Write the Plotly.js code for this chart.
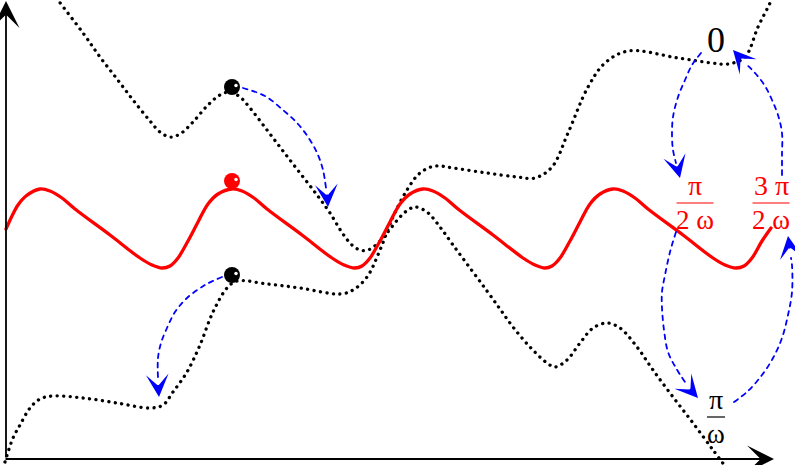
<!DOCTYPE html>
<html>
<head>
<meta charset="utf-8">
<script src="https://cdn.plot.ly/plotly-3.0.1.min.js"></script>
<style>
html,body{margin:0;padding:0;background:#fff;}
#chart{width:795px;height:465px;}
.js-line{stroke-linecap:round !important;}
</style>
</head>
<body>
<div id="chart"></div>
<script>
// ---- data (chart coordinates: x to the right, y downward) ----
// red periodic potential
const redX = [6,12,18,26,40,50,62,75,110,140,152,162,170,178,188,198,208,218,232,
  242,254,267,302,332,344,355,362,370,380,390,400,410,423,
  433,445,458,493,523,535,545,552,560,570,580,590,600,613,
  623,635,648,683,713,725,736,744,752,762,771];
const redY = [229,216,205,196,189,191,198,209,235,258,265,268,266,258,241,222,204,194,189,
  191,198,209,235,258,265,268,266,258,241,222,204,194,189,
  191,198,209,235,258,265,268,266,258,241,222,204,194,189,
  191,198,209,235,258,265,268,266,258,241,228];

// tilted potential falling to the right (dotted)
const fallX = [45,58,83,100,117,133,150,160,170,180,193,207,220,230,240,250,267,283,300,317,330,343,352,360,368,377,387,400,408,415,427,440,453,470,487,500,513,530,547,555,567,580,593,607,620,637,653,673,693,713,725];
const fallY = [-18,0,33,57,79,100,121,132,137,134,122,106,95,92,97,108,130,151,173,195,213,234,245,250,250,244,233,217,210,207,212,227,245,268,291,309,327,347,363,367,360,343,328,323,328,347,370,397,423,450,466];

// tilted potential rising to the right (dotted)
const riseX = [5,13,20,30,40,53,83,117,150,163,173,187,200,213,227,237,267,300,340,353,367,380,393,407,420,435,453,487,517,535,552,568,588,605,628,678,712,728,745,758,770,778];
const riseY = [462,438,425,408,399,396,398,403,408,405,392,372,345,312,288,281,284,288,294,290,277,250,217,190,173,166,168,173,177,178,167,133,87,63,51,58,63,64,57,27,3,-15];

// blue dashed transition arrows
const arrowsX = [
  [243,265,283,298,310,318,323,326],
  [222,205,187,175,167,161,158,158],
  [701,692,685,678,673,672,673,676],
  [676,670,665,662,662,664,668,676,685],
  [734,748,762,773,782,788,792,792,791],
  [782,782,782,778,772,765,755,745]
];
const arrowsY = [
  [88,96,110,124,140,155,170,188],
  [277,285,298,312,328,343,358,378],
  [53,65,80,97,117,135,150,163],
  [232,252,275,292,308,330,352,368,382],
  [402,391,375,358,338,315,292,265,258],
  [175,155,133,115,100,86,73,63]
];
const headTailX = [327,158,677,689,790,742];
const headTailY = [193,384,166,388,250,60];
const headTipX  = [328,159,680,698,788,733];
const headTipY  = [207,397,178,398,236,50];

// particles
const ballX = [232,232,232];
const ballY = [87,275,181];
const ballColor = ['#000000','#000000','#ff0000'];

// labels
const labelText = ['0'];
const labelX = [716];
const labelY = [40];
const fracNum = ['π','3 π','π'];
const fracDen = ['2 ω','2 ω','ω'];
const fracX = [695,771,716];
const fracBarY = [203,203,417];
const fracHalfW = [18.5,18.5,9];
const fracColor = ['#ff0000','#ff0000','#000000'];

// axes (origin and arrow tips)
const axisOrigin = [6,459];
const axisTipX = [774,459];
const axisTipY = [6,1];

// ---- build figure ----
const traces = [];
traces.push({x: riseX, y: riseY, mode:'lines', line:{color:'#000', width:3.3, dash:'0.1px,6.4px', shape:'spline', smoothing:1}, hoverinfo:'skip'});
traces.push({x: fallX, y: fallY, mode:'lines', line:{color:'#000', width:3.3, dash:'0.1px,6.4px', shape:'spline', smoothing:1}, hoverinfo:'skip'});
traces.push({x: redX, y: redY, mode:'lines', line:{color:'#ff0000', width:3.3, shape:'spline', smoothing:1}, hoverinfo:'skip'});
for (let i = 0; i < arrowsX.length; i++) {
  traces.push({x: arrowsX[i], y: arrowsY[i], mode:'lines', line:{color:'#0000ff', width:1.8, dash:'4.5px,5px', shape:'spline', smoothing:1}, hoverinfo:'skip'});
}
traces.push({x: ballX, y: ballY, mode:'markers', marker:{size:16, color: ballColor, line:{width:0}}, hoverinfo:'skip', cliponaxis:false});
traces.push({x: ballX.map(v=>v+4), y: ballY.map(v=>v-1.5), mode:'markers', marker:{size:3.5, color:'#ffffff', line:{width:0}}, hoverinfo:'skip', cliponaxis:false});

const annotations = [];
const serif = 'Liberation Serif, serif';
// axes arrows
annotations.push({x: axisOrigin[0], y: axisTipY[1], ax: axisOrigin[0], ay: axisOrigin[1], xref:'x', yref:'y', axref:'x', ayref:'y', text:'', showarrow:true, arrowhead:3, arrowsize:2.5, arrowwidth:1.8, arrowcolor:'#000'});
annotations.push({x: axisTipX[0], y: axisOrigin[1], ax: axisOrigin[0]-2, ay: axisOrigin[1], xref:'x', yref:'y', axref:'x', ayref:'y', text:'', showarrow:true, arrowhead:3, arrowsize:2.5, arrowwidth:1.8, arrowcolor:'#000'});
// blue arrow heads
for (let i = 0; i < headTipX.length; i++) {
  annotations.push({x: headTipX[i], y: headTipY[i], ax: headTailX[i], ay: headTailY[i], xref:'x', yref:'y', axref:'x', ayref:'y', text:'', showarrow:true, arrowhead:3, arrowsize:2.1, arrowwidth:1.8, arrowcolor:'#0000ff', standoff:0});
}
// labels
for (let i = 0; i < labelText.length; i++) {
  annotations.push({x: labelX[i], y: labelY[i], xref:'x', yref:'y', text: labelText[i], showarrow:false, xanchor:'center', yanchor:'middle', font:{family: serif, size:36, color:'#000'}});
}
const shapes = [];
for (let i = 0; i < fracNum.length; i++) {
  annotations.push({x: fracX[i], y: fracBarY[i] - 1, xref:'x', yref:'y', text: fracNum[i], showarrow:false, xanchor:'center', yanchor:'bottom', borderpad:0, font:{family: serif, size:28, color: fracColor[i]}});
  annotations.push({x: fracX[i], y: fracBarY[i] + 1, xref:'x', yref:'y', text: fracDen[i], showarrow:false, xanchor:'center', yanchor:'top', borderpad:0, font:{family: serif, size:27, color: fracColor[i]}});
  shapes.push({type:'line', xref:'x', yref:'y', x0: fracX[i]-fracHalfW[i], x1: fracX[i]+fracHalfW[i], y0: fracBarY[i], y1: fracBarY[i], line:{color: fracColor[i], width:1.2}});
}

const layout = {
  width: 795, height: 465,
  margin: {l:0, r:0, t:0, b:0, pad:0},
  paper_bgcolor: '#fff', plot_bgcolor: '#fff',
  showlegend: false,
  xaxis: {range:[0,795], visible:false, fixedrange:true},
  yaxis: {range:[465,0], visible:false, fixedrange:true},
  annotations: annotations,
  shapes: shapes
};
Plotly.newPlot('chart', traces, layout, {displayModeBar:false, staticPlot:true});
</script>
</body>
</html>
